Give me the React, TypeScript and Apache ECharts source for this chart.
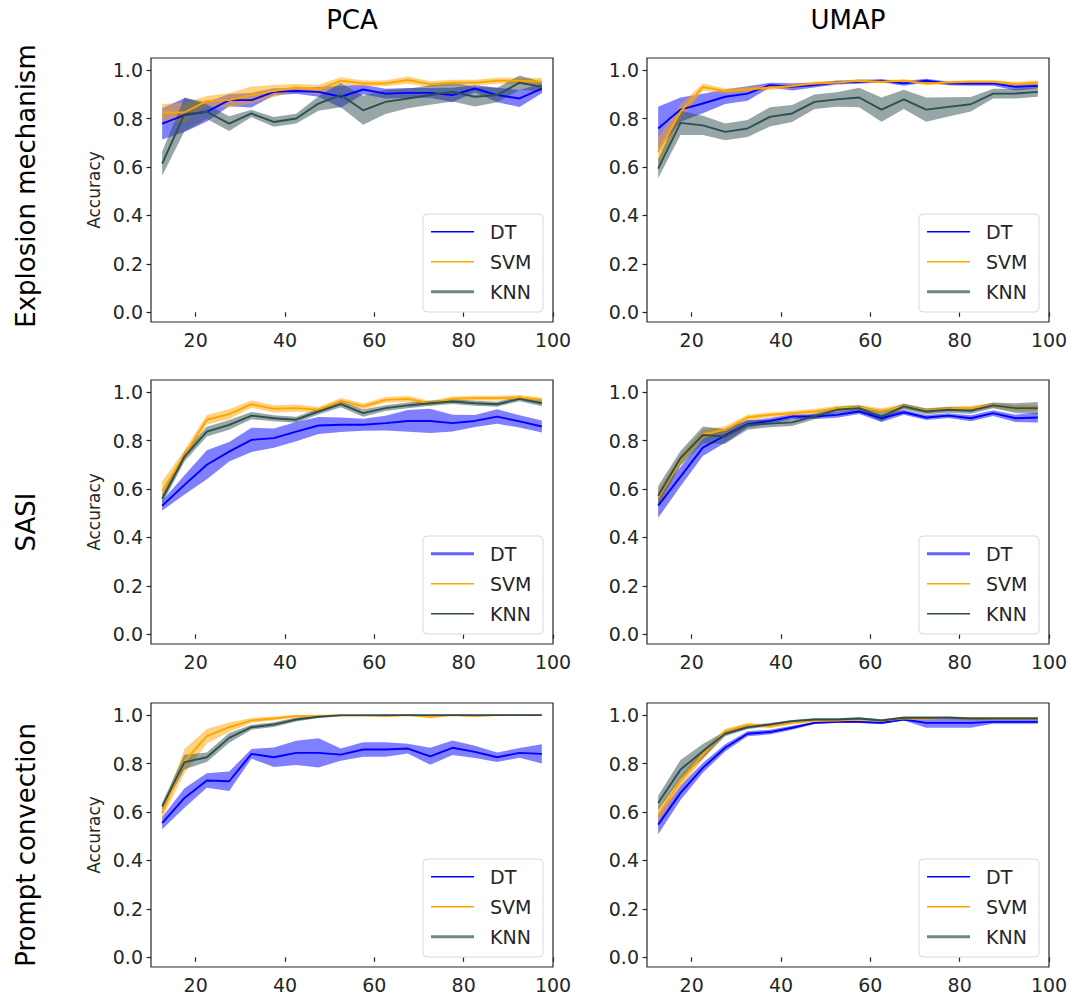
import React, { useEffect, useRef } from "react";
import * as echarts from "echarts";

const xs = [12.5, 17.5, 22.5, 27.5, 32.5, 37.5, 42.5, 47.5, 52.5, 57.5, 62.5, 67.5, 72.5, 77.5, 82.5, 87.5, 92.5, 97.5];
const xTicks = [20, 40, 60, 80, 100];
const yTicks = [0, 0.2, 0.4, 0.6, 0.8, 1.0];
const methods = ["DT", "SVM", "KNN"];
const colTitles = ["PCA", "UMAP"];
const rowTitles = ["Explosion mechanism", "SASI", "Prompt convection"];

// Explosion mechanism – PCA
const pcaExpDT = [0.779, 0.814, 0.828, 0.876, 0.876, 0.91, 0.914, 0.91, 0.89, 0.92, 0.903, 0.906, 0.906, 0.897, 0.924, 0.897, 0.883, 0.924];
const pcaExpDTErr = [0.065, 0.07, 0.04, 0.025, 0.03, 0.015, 0.012, 0.02, 0.045, 0.02, 0.02, 0.02, 0.02, 0.03, 0.015, 0.03, 0.035, 0.02];
const pcaExpSVM = [0.825, 0.825, 0.873, 0.876, 0.897, 0.914, 0.928, 0.92, 0.956, 0.945, 0.945, 0.959, 0.942, 0.948, 0.948, 0.956, 0.956, 0.952];
const pcaExpSVMErr = [0.035, 0.04, 0.02, 0.03, 0.035, 0.025, 0.015, 0.02, 0.015, 0.012, 0.012, 0.015, 0.012, 0.012, 0.012, 0.012, 0.012, 0.015];
const pcaExpKNN = [0.614, 0.818, 0.828, 0.779, 0.821, 0.786, 0.8, 0.862, 0.897, 0.834, 0.869, 0.883, 0.897, 0.91, 0.89, 0.897, 0.948, 0.931];
const pcaExpKNNErr = [0.05, 0.07, 0.03, 0.03, 0.015, 0.02, 0.02, 0.03, 0.05, 0.06, 0.05, 0.04, 0.04, 0.04, 0.04, 0.03, 0.03, 0.02];

// Explosion mechanism – UMAP
const umapExpDT = [0.759, 0.837, 0.862, 0.89, 0.903, 0.938, 0.931, 0.938, 0.949, 0.952, 0.956, 0.945, 0.956, 0.945, 0.945, 0.945, 0.931, 0.935];
const umapExpDTErr = [0.09, 0.05, 0.04, 0.03, 0.03, 0.01, 0.015, 0.01, 0.008, 0.008, 0.006, 0.01, 0.008, 0.008, 0.01, 0.01, 0.015, 0.01];
const umapExpSVM = [0.662, 0.828, 0.93, 0.914, 0.92, 0.928, 0.934, 0.945, 0.949, 0.956, 0.952, 0.956, 0.945, 0.949, 0.952, 0.952, 0.942, 0.949];
const umapExpSVMErr = [0.06, 0.03, 0.015, 0.01, 0.01, 0.01, 0.008, 0.008, 0.006, 0.006, 0.006, 0.006, 0.006, 0.006, 0.006, 0.006, 0.01, 0.008];
const umapExpKNN = [0.593, 0.782, 0.772, 0.745, 0.759, 0.807, 0.821, 0.869, 0.879, 0.887, 0.837, 0.879, 0.837, 0.848, 0.859, 0.903, 0.903, 0.91];
const umapExpKNNErr = [0.04, 0.05, 0.04, 0.035, 0.035, 0.04, 0.035, 0.03, 0.03, 0.04, 0.05, 0.04, 0.05, 0.04, 0.03, 0.02, 0.02, 0.02];

// SASI – PCA
const pcaSasiDT = [0.531, 0.617, 0.7, 0.754, 0.803, 0.81, 0.837, 0.862, 0.865, 0.865, 0.872, 0.881, 0.881, 0.872, 0.881, 0.899, 0.879, 0.858];
const pcaSasiDTErr = [0.02, 0.04, 0.06, 0.04, 0.05, 0.04, 0.04, 0.035, 0.03, 0.025, 0.03, 0.045, 0.05, 0.035, 0.025, 0.03, 0.025, 0.025];
const pcaSasiSVM = [0.592, 0.741, 0.886, 0.909, 0.95, 0.931, 0.934, 0.927, 0.964, 0.941, 0.968, 0.972, 0.954, 0.972, 0.975, 0.975, 0.978, 0.968];
const pcaSasiSVMErr = [0.04, 0.02, 0.02, 0.02, 0.015, 0.015, 0.015, 0.012, 0.012, 0.012, 0.012, 0.012, 0.01, 0.01, 0.01, 0.01, 0.01, 0.01];
const pcaSasiKNN = [0.559, 0.734, 0.837, 0.865, 0.903, 0.892, 0.886, 0.92, 0.95, 0.913, 0.934, 0.945, 0.954, 0.961, 0.954, 0.95, 0.972, 0.954];
const pcaSasiKNNErr = [0.02, 0.02, 0.02, 0.02, 0.015, 0.012, 0.012, 0.012, 0.012, 0.015, 0.012, 0.012, 0.01, 0.01, 0.01, 0.01, 0.01, 0.012];

// SASI – UMAP
const umapSasiDT = [0.531, 0.651, 0.771, 0.821, 0.868, 0.881, 0.899, 0.899, 0.906, 0.92, 0.892, 0.917, 0.895, 0.903, 0.892, 0.913, 0.892, 0.895];
const umapSasiDTErr = [0.05, 0.04, 0.035, 0.03, 0.015, 0.012, 0.01, 0.01, 0.012, 0.01, 0.015, 0.01, 0.01, 0.01, 0.012, 0.012, 0.015, 0.02];
const umapSasiSVM = [0.564, 0.72, 0.826, 0.844, 0.895, 0.906, 0.913, 0.92, 0.934, 0.937, 0.923, 0.941, 0.923, 0.931, 0.934, 0.945, 0.934, 0.934];
const umapSasiSVMErr = [0.03, 0.02, 0.02, 0.015, 0.012, 0.01, 0.01, 0.01, 0.01, 0.01, 0.01, 0.01, 0.01, 0.01, 0.01, 0.01, 0.012, 0.012];
const umapSasiKNN = [0.572, 0.727, 0.823, 0.817, 0.865, 0.87, 0.875, 0.9, 0.927, 0.934, 0.899, 0.941, 0.92, 0.927, 0.923, 0.945, 0.934, 0.934];
const umapSasiKNNErr = [0.04, 0.03, 0.035, 0.03, 0.02, 0.015, 0.015, 0.012, 0.012, 0.012, 0.02, 0.012, 0.012, 0.012, 0.012, 0.012, 0.02, 0.025];

// Prompt convection – PCA
const pcaPromptDT = [0.554, 0.658, 0.73, 0.727, 0.84, 0.826, 0.844, 0.844, 0.837, 0.858, 0.858, 0.862, 0.83, 0.865, 0.848, 0.826, 0.844, 0.84];
const pcaPromptDTErr = [0.025, 0.04, 0.03, 0.04, 0.02, 0.04, 0.05, 0.06, 0.025, 0.03, 0.03, 0.02, 0.035, 0.03, 0.025, 0.02, 0.02, 0.04];
const pcaPromptSVM = [0.596, 0.81, 0.913, 0.95, 0.978, 0.986, 0.996, 0.996, 1.0, 1.0, 0.996, 1.0, 0.993, 1.0, 0.996, 1.0, 1.0, 1.0];
const pcaPromptSVMErr = [0.02, 0.05, 0.03, 0.02, 0.01, 0.008, 0.005, 0.005, 0.003, 0.003, 0.005, 0.003, 0.006, 0.003, 0.004, 0.002, 0.002, 0.002];
const pcaPromptKNN = [0.623, 0.806, 0.826, 0.906, 0.95, 0.961, 0.982, 0.993, 0.999, 0.999, 1.0, 1.0, 1.0, 1.0, 1.0, 1.0, 1.0, 1.0];
const pcaPromptKNNErr = [0.015, 0.03, 0.02, 0.02, 0.01, 0.01, 0.008, 0.005, 0.003, 0.003, 0.002, 0.002, 0.002, 0.002, 0.002, 0.002, 0.002, 0.002];

// Prompt convection – UMAP
const umapPromptDT = [0.548, 0.679, 0.782, 0.865, 0.923, 0.93, 0.948, 0.968, 0.972, 0.972, 0.968, 0.982, 0.968, 0.968, 0.968, 0.972, 0.972, 0.972];
const umapPromptDTErr = [0.04, 0.03, 0.02, 0.015, 0.01, 0.01, 0.008, 0.005, 0.005, 0.005, 0.006, 0.004, 0.02, 0.02, 0.02, 0.008, 0.008, 0.008];
const umapPromptSVM = [0.589, 0.727, 0.837, 0.934, 0.959, 0.954, 0.968, 0.978, 0.978, 0.982, 0.978, 0.986, 0.986, 0.989, 0.986, 0.986, 0.986, 0.986];
const umapPromptSVMErr = [0.03, 0.025, 0.02, 0.01, 0.008, 0.008, 0.006, 0.005, 0.005, 0.005, 0.005, 0.005, 0.005, 0.005, 0.005, 0.005, 0.005, 0.005];
const umapPromptKNN = [0.637, 0.775, 0.851, 0.923, 0.95, 0.961, 0.975, 0.982, 0.982, 0.986, 0.978, 0.989, 0.989, 0.989, 0.986, 0.986, 0.986, 0.986];
const umapPromptKNNErr = [0.03, 0.04, 0.03, 0.01, 0.008, 0.006, 0.005, 0.005, 0.005, 0.005, 0.005, 0.005, 0.005, 0.005, 0.005, 0.005, 0.005, 0.005];

// panels in row-major order: [row][col]
const panels = [
  [
    { means: [pcaExpDT, pcaExpSVM, pcaExpKNN], errs: [pcaExpDTErr, pcaExpSVMErr, pcaExpKNNErr] },
    { means: [umapExpDT, umapExpSVM, umapExpKNN], errs: [umapExpDTErr, umapExpSVMErr, umapExpKNNErr] },
  ],
  [
    { means: [pcaSasiDT, pcaSasiSVM, pcaSasiKNN], errs: [pcaSasiDTErr, pcaSasiSVMErr, pcaSasiKNNErr] },
    { means: [umapSasiDT, umapSasiSVM, umapSasiKNN], errs: [umapSasiDTErr, umapSasiSVMErr, umapSasiKNNErr] },
  ],
  [
    { means: [pcaPromptDT, pcaPromptSVM, pcaPromptKNN], errs: [pcaPromptDTErr, pcaPromptSVMErr, pcaPromptKNNErr] },
    { means: [umapPromptDT, umapPromptSVM, umapPromptKNN], errs: [umapPromptDTErr, umapPromptSVMErr, umapPromptKNNErr] },
  ],
];

// styling / layout
const FONT = "DejaVu Sans";
const TEXT = "#262626";
const lineColors = ["#0000ff", "#ffa500", "#2f4f4f"];
const bandFills = ["rgba(0,0,255,0.5)", "rgba(255,165,0,0.5)", "rgba(47,79,79,0.5)"];
const colLeft = [151, 647];
const rowTop = [58, 380, 703];
const GW = 402;
const GH = 264;
// legend handle styles per row: [color, width] for DT, SVM, KNN
const legendHandles: [string, number][][] = [
  [["#0000ff", 1.5], ["#ffa500", 1.5], ["#6f8883", 3]],
  [["#6262ff", 3], ["#ffa500", 1.5], ["#2f4f4f", 1.5]],
  [["#0000ff", 1.5], ["#ffa500", 1.5], ["#6f8883", 3]],
];

function bandSeries(gi: number, m: number[], e: number[], fill: string, name: string) {
  const data = xs.map((x, i) => [x, m[i] - e[i], m[i] + e[i]]);
  return {
    type: "custom",
    name,
    xAxisIndex: gi,
    yAxisIndex: gi,
    silent: true,
    encode: { x: 0, y: [1, 2] },
    data,
    renderItem: (params: any, api: any) => {
      if (params.dataIndex !== 0) return null;
      const pts: number[][] = [];
      for (let i = 0; i < data.length; i++) pts.push(api.coord([data[i][0], data[i][2]]));
      for (let i = data.length - 1; i >= 0; i--) pts.push(api.coord([data[i][0], data[i][1]]));
      return { type: "polygon", shape: { points: pts }, style: { fill, stroke: "none" } };
    },
  };
}

function buildOption() {
  const grid: any[] = [];
  const xAxis: any[] = [];
  const yAxis: any[] = [];
  const series: any[] = [];
  const graphic: any[] = [];
  let gi = 0;
  for (let r = 0; r < 3; r++) {
    for (let c = 0; c < 2; c++) {
      grid.push({
        left: colLeft[c],
        top: rowTop[r],
        width: GW,
        height: GH,
        show: true,
        borderColor: "#262626",
        borderWidth: 1.2,
        backgroundColor: "transparent",
      });
      xAxis.push({
        type: "value",
        gridIndex: gi,
        min: 10,
        max: 100,
        axisLine: { show: false },
        splitLine: { show: false },
        axisTick: { show: true, length: 4.5, customValues: xTicks, lineStyle: { color: "#262626", width: 1.2 } },
        axisLabel: {
          customValues: xTicks,
          fontSize: 19,
          fontFamily: FONT,
          color: TEXT,
          margin: 8,
          formatter: (v: number) => String(v),
        },
      });
      yAxis.push({
        type: "value",
        gridIndex: gi,
        min: -0.04,
        max: 1.05,
        axisLine: { show: false },
        splitLine: { show: false },
        axisTick: { show: true, length: 4.5, customValues: yTicks, lineStyle: { color: "#262626", width: 1.2 } },
        axisLabel: {
          customValues: yTicks,
          fontSize: 19,
          fontFamily: FONT,
          color: TEXT,
          margin: 8,
          formatter: (v: number) => v.toFixed(1),
        },
      });
      const p = panels[r][c];
      for (let s = 0; s < 3; s++) {
        const m = p.means[s];
        const e = p.errs[s];
        series.push(bandSeries(gi, m, e, bandFills[s], methods[s] + " band"));
        series.push({
          type: "line",
          name: methods[s],
          xAxisIndex: gi,
          yAxisIndex: gi,
          symbol: "none",
          lineStyle: { width: 1.9, color: lineColors[s] },
          data: xs.map((x, i) => [x, m[i]]),
        });
      }
      // legend (drawn as graphic)
      const bw = 120;
      const bh = 98;
      const bx = colLeft[c] + GW - 10 - bw;
      const by = rowTop[r] + GH - 10 - bh;
      graphic.push({
        type: "rect",
        shape: { x: bx, y: by, width: bw, height: bh, r: 4 },
        style: { fill: "rgba(255,255,255,0.85)", stroke: "#d9d9d9", lineWidth: 1 },
        z: 100,
      });
      for (let s = 0; s < 3; s++) {
        const yy = by + 17.7 + s * 30;
        const h = legendHandles[r][s];
        graphic.push({
          type: "line",
          shape: { x1: bx + 8, y1: yy, x2: bx + 51, y2: yy },
          style: { stroke: h[0], lineWidth: h[1] },
          z: 101,
        });
        graphic.push({
          type: "text",
          x: bx + 67,
          y: yy,
          style: { text: methods[s], fontSize: 19, fontFamily: FONT, fill: TEXT, align: "left", verticalAlign: "middle" },
          z: 101,
        });
      }
      gi++;
    }
  }
  // column titles, centred over each column of plots
  colTitles.forEach((t, c) => {
    graphic.push({
      type: "text",
      x: colLeft[c] + GW / 2,
      y: 20,
      style: { text: t, fontSize: 26, fontFamily: FONT, fill: "#000", align: "center", verticalAlign: "middle" },
    });
  });
  // row titles
  const rowLabelY = [186, 522, 845];
  rowTitles.forEach((t, r) => {
    graphic.push({
      type: "text",
      x: 25.5,
      y: rowLabelY[r],
      rotation: Math.PI / 2,
      style: { text: t, fontSize: 26, fontFamily: FONT, fill: "#000", align: "center", verticalAlign: "middle" },
    });
    graphic.push({
      type: "text",
      x: 94,
      y: rowTop[r] + GH / 2,
      rotation: Math.PI / 2,
      style: { text: "Accuracy", fontSize: 17, fontFamily: FONT, fill: TEXT, align: "center", verticalAlign: "middle" },
    });
  });
  return { animation: false, backgroundColor: "#fff", grid, xAxis, yAxis, series, graphic };
}

export default function App() {
  const ref = useRef<HTMLDivElement>(null);
  useEffect(() => {
    if (!ref.current) return;
    const chart = echarts.init(ref.current, null, { renderer: "svg" });
    chart.setOption(buildOption() as any);
    return () => chart.dispose();
  }, []);
  return (
    <div
      ref={ref}
      style={{ position: "absolute", left: 0, top: 0, width: 1075, height: 998, background: "#fff" }}
    />
  );
}
